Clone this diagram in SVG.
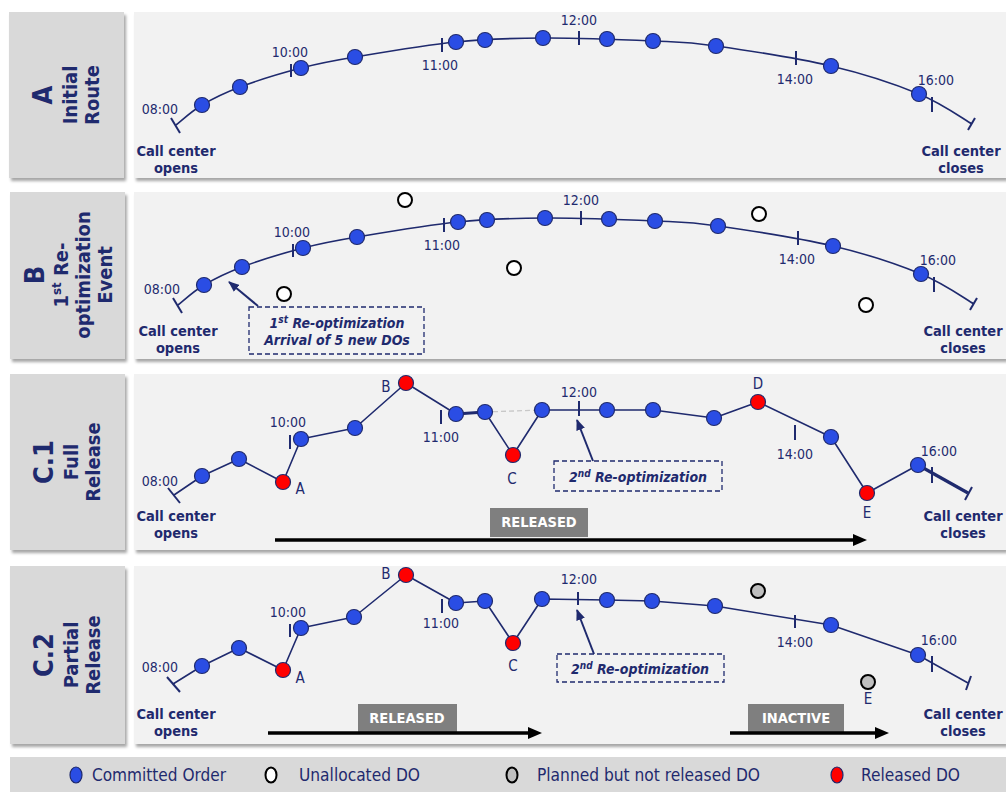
<svg xmlns="http://www.w3.org/2000/svg" xmlns:xlink="http://www.w3.org/1999/xlink" width="1006" height="792" viewBox="0 0 1006 792">
  <defs>
    <filter id="shadow" x="-3%" y="-5%" width="110%" height="120%">
      <feDropShadow dx="2" dy="3" stdDeviation="1.8" flood-color="#000" flood-opacity="0.35"/>
    </filter>
    <marker id="bigArrow" markerUnits="userSpaceOnUse" markerWidth="15" markerHeight="12" refX="1" refY="6" orient="auto">
      <path d="M0,0 L14,6 L0,12 z" fill="#000"/>
    </marker>
    <marker id="ptrHead" markerUnits="userSpaceOnUse" markerWidth="11" markerHeight="9" refX="10" refY="4.5" orient="auto">
      <path d="M0,0 L11,4.5 L0,9 z" fill="#1f2a6e"/>
    </marker>
    <style>
      .panel { fill:#f2f2f2; filter:url(#shadow); }
      .tab { fill:#d9d9d9; filter:url(#shadow); }
      .route { fill:none; stroke:#1f2a6e; stroke-width:1.6; stroke-linejoin:round; }
      .thick { fill:none; stroke:#1f2a6e; stroke-width:3.2; }
      .tick { stroke:#1f2a6e; stroke-width:2; }
      .co { fill:#2a4de4; stroke:#1f2a6e; stroke-width:1.2; }
      .rel { fill:#ff0000; stroke:#1f2a6e; stroke-width:1.2; }
      .un { fill:#ffffff; stroke:#000; stroke-width:2; }
      .pl { fill:#bfbfbf; stroke:#000; stroke-width:2; }
      text { font-family:"DejaVu Sans Condensed","DejaVu Sans",sans-serif; fill:#1f2a6e; text-anchor:middle; }
      .time { font-size:14px; }
      .cc { font-size:14.5px; font-weight:bold; }
      .let { font-size:15px; }
      .tabt { font-size:20px; font-weight:bold; }
      .big { font-size:27px; font-weight:bold; }
      .note { fill:none; stroke:#1f2a6e; stroke-width:1.3; stroke-dasharray:5 3; }
      .notet { font-size:14px; font-weight:bold; font-style:italic; }
      .flag { fill:#7f7f7f; }
      .flagt { font-size:14.5px; font-weight:bold; fill:#ffffff; }
      .span { stroke:#000; stroke-width:3.5; marker-end:url(#bigArrow); }
      .ptr { stroke:#1f2a6e; stroke-width:2; marker-end:url(#ptrHead); }
      .leg { font-size:17px; text-anchor:start; }
    </style>
  </defs>

  <rect width="1006" height="792" fill="#ffffff"/>

  <!-- Panel A: initial route -->
  <g id="panel-a">
    <rect class="tab" x="9" y="12" width="115" height="166"/>
    <rect class="panel" x="134" y="12" width="872" height="166"/>
    <g id="tab-a">
      <text class="big" transform="translate(52,95) rotate(-90)">A</text>
      <text class="tabt" transform="translate(77,95) rotate(-90)">Initial</text>
      <text class="tabt" transform="translate(99,95) rotate(-90)">Route</text>
    </g>
    <g id="initial-route">
      <path class="route" d="M176,125 C180.3,121.7 191.3,111.3 202,105 C212.7,98.7 223.5,93.2 240,87 C256.5,80.8 281.8,73 301,68 C320.2,63 329.2,61.3 355,57 C380.8,52.7 424.7,45.2 456,42 C487.3,38.8 510.2,38.2 543,38 C575.8,37.8 624.2,39.7 653,41 C681.8,42.3 686.3,41.8 716,46 C745.7,50.2 797.2,58 831,66 C864.8,74 895.5,84.3 919,94 C942.5,103.7 963.2,119 972,124"/>
      <g id="ticks-a">
        <line class="tick" x1="171" y1="118" x2="180" y2="133"/>
        <line class="tick" x1="291" y1="64" x2="291" y2="77"/>
        <line class="tick" x1="442" y1="38" x2="442" y2="52"/>
        <line class="tick" x1="579" y1="31" x2="579" y2="45"/>
        <line class="tick" x1="796" y1="51" x2="796" y2="65"/>
        <line class="tick" x1="932" y1="97" x2="932" y2="112"/>
        <line class="tick" x1="968" y1="130" x2="975" y2="118"/>
      </g>
      <g id="orders-a">
        <circle class="co" cx="202" cy="105" r="7.5"/>
        <circle class="co" cx="240" cy="87" r="7.5"/>
        <circle class="co" cx="301" cy="68" r="7.5"/>
        <circle class="co" cx="355" cy="57" r="7.5"/>
        <circle class="co" cx="456" cy="42" r="7.5"/>
        <circle class="co" cx="485" cy="40" r="7.5"/>
        <circle class="co" cx="543" cy="38" r="7.5"/>
        <circle class="co" cx="607" cy="39" r="7.5"/>
        <circle class="co" cx="653" cy="41" r="7.5"/>
        <circle class="co" cx="716" cy="46" r="7.5"/>
        <circle class="co" cx="831" cy="66" r="7.5"/>
        <circle class="co" cx="919" cy="94" r="7.5"/>
      </g>
      <g id="times-a">
        <text class="time" x="160" y="114">08:00</text>
        <text class="time" x="290" y="57">10:00</text>
        <text class="time" x="440" y="70">11:00</text>
        <text class="time" x="579" y="25">12:00</text>
        <text class="time" x="795" y="84">14:00</text>
        <text class="time" x="936" y="85">16:00</text>
      </g>
      <text class="cc" x="176" y="156">Call center</text>
      <text class="cc" x="176" y="173">opens</text>
      <text class="cc" x="961" y="156">Call center</text>
      <text class="cc" x="961" y="173">closes</text>
    </g>
  </g>

  <!-- Panel B: first re-optimization event -->
  <g id="panel-b">
    <rect class="tab" x="10" y="192" width="115" height="167"/>
    <rect class="panel" x="134" y="192" width="872" height="167"/>
    <g id="tab-b">
      <text class="big" transform="translate(44,275) rotate(-90)">B</text>
      <text class="tabt" transform="translate(68,275) rotate(-90)">1<tspan font-size="13" dy="-7">st</tspan><tspan dy="7"> Re-</tspan></text>
      <text class="tabt" transform="translate(90,275) rotate(-90)">optimization</text>
      <text class="tabt" transform="translate(112,275) rotate(-90)">Event</text>
    </g>
    <use xlink:href="#initial-route" href="#initial-route" transform="translate(2,180)"/>
    <g id="unallocated-b">
      <circle class="un" cx="405" cy="200" r="7"/>
      <circle class="un" cx="284" cy="294" r="7"/>
      <circle class="un" cx="514" cy="268" r="7"/>
      <circle class="un" cx="759" cy="214" r="7"/>
      <circle class="un" cx="866" cy="305" r="7"/>
    </g>
    <g id="note-b">
      <rect class="note" x="249" y="307" width="175" height="47"/>
      <text class="notet" x="337" y="328">1<tspan font-size="10" dy="-5">st</tspan><tspan dy="5"> Re-optimization</tspan></text>
      <text class="notet" x="337" y="345">Arrival of 5 new DOs</text>
    </g>
  </g>

  <!-- Panel C.1: full release -->
  <g id="panel-c1">
    <rect class="tab" x="10" y="374" width="115" height="176"/>
    <rect class="panel" x="134" y="374" width="872" height="176"/>
    <g id="tab-c1">
      <text class="big" transform="translate(53,462) rotate(-90)">C.1</text>
      <text class="tabt" transform="translate(78,462) rotate(-90)">Full</text>
      <text class="tabt" transform="translate(100,462) rotate(-90)">Release</text>
    </g>
    <g id="route-c1">
      <line x1="485" y1="412" x2="542" y2="410" stroke="#c8c8c8" stroke-width="1.3" stroke-dasharray="5 3"/>
      <path class="route" d="M174,495 L202,476 L239,459 L283,482 L301,439 L355,428 L406,383 L456,414 L485,412 L513,455 L542,410 L607,410 L653,410 L714,418 L758,402 L831,437 L867,493 L918,465"/>
      <line class="thick" x1="456" y1="414" x2="485" y2="412"/>
      <line class="thick" x1="918" y1="465" x2="968" y2="493"/>
    </g>
    <g id="ticks-c1">
      <line class="tick" x1="168" y1="488" x2="180" y2="503"/>
      <line class="tick" x1="290" y1="435" x2="290" y2="449"/>
      <line class="tick" x1="441" y1="410" x2="441" y2="424"/>
      <line class="tick" x1="579" y1="401" x2="579" y2="416"/>
      <line class="tick" x1="795" y1="425" x2="795" y2="440"/>
      <line class="tick" x1="932" y1="467" x2="932" y2="483"/>
      <line class="tick" x1="965" y1="500" x2="972" y2="487"/>
    </g>
    <g id="orders-c1">
      <circle class="co" cx="202" cy="476" r="7.5"/>
      <circle class="co" cx="239" cy="459" r="7.5"/>
      <circle class="rel" cx="283" cy="482" r="7.5"/>
      <circle class="co" cx="301" cy="439" r="7.5"/>
      <circle class="co" cx="355" cy="428" r="7.5"/>
      <circle class="rel" cx="406" cy="383" r="7.5"/>
      <circle class="co" cx="456" cy="414" r="7.5"/>
      <circle class="co" cx="485" cy="412" r="7.5"/>
      <circle class="rel" cx="513" cy="455" r="7.5"/>
      <circle class="co" cx="542" cy="410" r="7.5"/>
      <circle class="co" cx="607" cy="410" r="7.5"/>
      <circle class="co" cx="653" cy="410" r="7.5"/>
      <circle class="co" cx="714" cy="418" r="7.5"/>
      <circle class="rel" cx="758" cy="402" r="7.5"/>
      <circle class="co" cx="831" cy="437" r="7.5"/>
      <circle class="rel" cx="867" cy="493" r="7.5"/>
      <circle class="co" cx="918" cy="465" r="7.5"/>
    </g>
    <g id="times-c1">
      <text class="time" x="160" y="486">08:00</text>
      <text class="time" x="288" y="427">10:00</text>
      <text class="time" x="441" y="442">11:00</text>
      <text class="time" x="579" y="397">12:00</text>
      <text class="time" x="795" y="459">14:00</text>
      <text class="time" x="939" y="456">16:00</text>
    </g>
    <g id="letters-c1">
      <text class="let" x="300" y="494">A</text>
      <text class="let" x="386" y="392">B</text>
      <text class="let" x="512" y="484">C</text>
      <text class="let" x="758" y="389">D</text>
      <text class="let" x="867" y="518">E</text>
    </g>
    <text class="cc" x="176" y="521">Call center</text>
    <text class="cc" x="176" y="538">opens</text>
    <text class="cc" x="963" y="521">Call center</text>
    <text class="cc" x="963" y="538">closes</text>
    <g id="note-c1">
      <rect class="note" x="554" y="461" width="168" height="30"/>
      <text class="notet" x="638" y="482">2<tspan font-size="10" dy="-5">nd</tspan><tspan dy="5"> Re-optimization</tspan></text>
    </g>
    <g id="released-c1">
      <rect class="flag" x="490" y="508" width="98" height="29"/>
      <text class="flagt" x="539" y="527">RELEASED</text>
    </g>
  </g>

  <!-- Panel C.2: partial release -->
  <g id="panel-c2">
    <rect class="tab" x="10" y="566" width="115" height="178"/>
    <rect class="panel" x="134" y="566" width="872" height="178"/>
    <g id="tab-c2">
      <text class="big" transform="translate(53,655) rotate(-90)">C.2</text>
      <text class="tabt" transform="translate(78,655) rotate(-90)">Partial</text>
      <text class="tabt" transform="translate(100,655) rotate(-90)">Release</text>
    </g>
    <g id="route-c2">
      <path class="route" d="M173,684 L202,666 L239,648 L283,670 L301,628 L354,617 L406,575 L456,603 L485,601 L513,643 L542,599 L607,600 L652,601 L715,606 L831,625 L918,655 L968,683"/>
    </g>
    <g id="ticks-c2">
      <line class="tick" x1="167" y1="677" x2="180" y2="692"/>
      <line class="tick" x1="290" y1="624" x2="290" y2="637"/>
      <line class="tick" x1="442" y1="599" x2="442" y2="613"/>
      <line class="tick" x1="578" y1="592" x2="578" y2="605"/>
      <line class="tick" x1="795" y1="615" x2="795" y2="628"/>
      <line class="tick" x1="932" y1="656" x2="932" y2="672"/>
      <line class="tick" x1="971" y1="676" x2="966" y2="690"/>
    </g>
    <g id="orders-c2">
      <circle class="co" cx="202" cy="666" r="7.5"/>
      <circle class="co" cx="239" cy="648" r="7.5"/>
      <circle class="rel" cx="283" cy="670" r="7.5"/>
      <circle class="co" cx="301" cy="628" r="7.5"/>
      <circle class="co" cx="354" cy="617" r="7.5"/>
      <circle class="rel" cx="406" cy="575" r="7.5"/>
      <circle class="co" cx="456" cy="603" r="7.5"/>
      <circle class="co" cx="485" cy="601" r="7.5"/>
      <circle class="rel" cx="513" cy="643" r="7.5"/>
      <circle class="co" cx="542" cy="599" r="7.5"/>
      <circle class="co" cx="607" cy="600" r="7.5"/>
      <circle class="co" cx="652" cy="601" r="7.5"/>
      <circle class="co" cx="715" cy="606" r="7.5"/>
      <circle class="co" cx="831" cy="625" r="7.5"/>
      <circle class="co" cx="918" cy="655" r="7.5"/>
      <circle class="pl" cx="758" cy="591" r="7"/>
      <circle class="pl" cx="868" cy="682" r="7"/>
    </g>
    <g id="times-c2">
      <text class="time" x="160" y="672">08:00</text>
      <text class="time" x="288" y="617">10:00</text>
      <text class="time" x="441" y="628">11:00</text>
      <text class="time" x="579" y="584">12:00</text>
      <text class="time" x="795" y="647">14:00</text>
      <text class="time" x="939" y="645">16:00</text>
    </g>
    <g id="letters-c2">
      <text class="let" x="300" y="683">A</text>
      <text class="let" x="386" y="579">B</text>
      <text class="let" x="513" y="671">C</text>
      <text class="let" x="868" y="704">E</text>
    </g>
    <text class="cc" x="176" y="719">Call center</text>
    <text class="cc" x="176" y="736">opens</text>
    <text class="cc" x="963" y="719">Call center</text>
    <text class="cc" x="963" y="736">closes</text>
    <g id="note-c2">
      <rect class="note" x="557" y="654" width="167" height="28"/>
      <text class="notet" x="640" y="674">2<tspan font-size="10" dy="-5">nd</tspan><tspan dy="5"> Re-optimization</tspan></text>
    </g>
    <g id="released-c2">
      <rect class="flag" x="358" y="704" width="99" height="28"/>
      <text class="flagt" x="407" y="723">RELEASED</text>
    </g>
    <g id="inactive-c2">
      <rect class="flag" x="748" y="704" width="96" height="28"/>
      <text class="flagt" x="796" y="723">INACTIVE</text>
    </g>
  </g>

  <!-- Connectors: pointers to re-optimization instants and release spans -->
  <g id="connectors">
    <line class="ptr" x1="258" y1="306" x2="229" y2="282"/>
    <line class="ptr" x1="593" y1="461" x2="577" y2="420"/>
    <line class="ptr" x1="594" y1="654" x2="577" y2="610"/>
    <line class="span" x1="275" y1="540" x2="854" y2="540"/>
    <line class="span" x1="268" y1="733" x2="529" y2="733"/>
    <line class="span" x1="730" y1="733" x2="876" y2="733"/>
  </g>

  <!-- Legend -->
  <g id="legend">
    <rect x="10" y="757" width="996" height="35" fill="#d9d9d9"/>
    <ellipse class="co" cx="76" cy="775" rx="6" ry="8"/>
    <text class="leg" x="92" y="781" textLength="134" lengthAdjust="spacingAndGlyphs">Committed Order</text>
    <ellipse class="un" cx="271" cy="775" rx="5.5" ry="7.5"/>
    <text class="leg" x="299" y="781" textLength="121" lengthAdjust="spacingAndGlyphs">Unallocated DO</text>
    <ellipse class="pl" cx="512" cy="775" rx="5.5" ry="7.5"/>
    <text class="leg" x="537" y="781" textLength="223" lengthAdjust="spacingAndGlyphs">Planned but not released DO</text>
    <ellipse class="rel" cx="837" cy="775" rx="6" ry="8"/>
    <text class="leg" x="861" y="781" textLength="99" lengthAdjust="spacingAndGlyphs">Released DO</text>
  </g>
</svg>
